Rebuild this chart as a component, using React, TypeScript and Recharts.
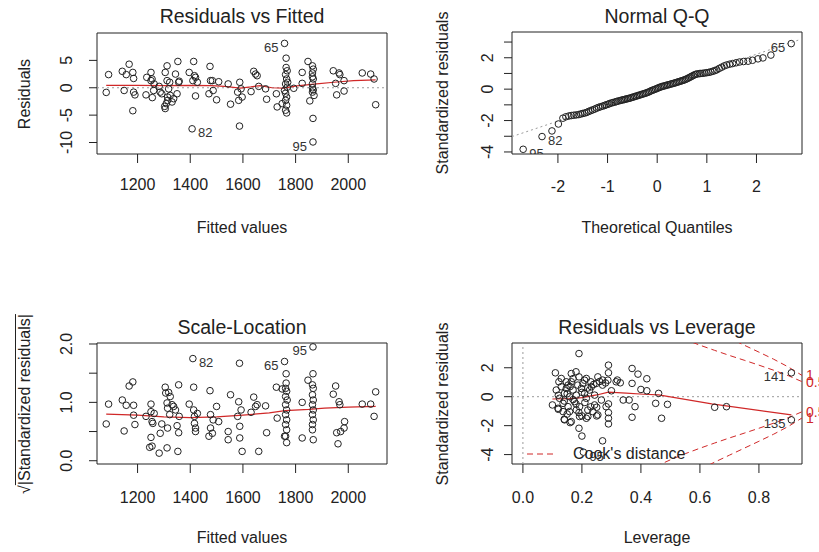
import React from 'react';
import {
  ComposedChart, Scatter, Line, XAxis, YAxis,
  ReferenceLine, ReferenceArea, ReferenceDot
} from 'recharts';

const FONT = '"Liberation Sans", Arial, sans-serif';
const INK = '#222';
const RED = '#d02828';
const GREY = '#9a9a9a';

// ---- Residuals vs Fitted: [fitted, residual]
const rvfPoints = [
  [1081, -0.85], [1090, 2.4], [1142, 3.0], [1149, -0.5], [1157, 2.4], [1168, 4.3], [1182, 2.8], [1185, 1.7],
  [1182, -4.2], [1185, -0.8], [1190, -1.3], [1232, -1.3], [1235, 1.9], [1251, 2.8], [1251, 1.3], [1255, 1.6],
  [1256, -1.8], [1261, -0.5], [1263, 0.7], [1282, 0.25], [1286, -0.8], [1292, -1.1], [1305, 2.8], [1303, -3.4],
  [1305, -3.8], [1309, -2.9], [1312, 4.0], [1312, 1.3], [1314, -1.7], [1314, -2.3], [1318, -0.2], [1322, 1.0],
  [1324, -1.4], [1331, -2.6], [1337, -2.0], [1344, 2.5], [1350, -1.1], [1353, 4.8], [1356, 1.0], [1358, 1.2],
  [1396, 2.8], [1413, 4.8], [1410, 1.3], [1416, 2.2], [1420, -1.5], [1420, 1.9], [1427, 1.0], [1475, 3.9],
  [1471, -1.1], [1477, 1.3], [1484, 1.3], [1487, -0.5], [1500, -2.2], [1508, 1.1], [1544, 0.7], [1553, -3.0],
  [1584, -2.3], [1580, -0.8], [1588, 1.0], [1587, -7.0], [1593, -0.2], [1597, -1.7], [1631, -0.7], [1641, 3.0],
  [1648, 2.5], [1654, 2.2], [1660, 0.25], [1686, -0.2], [1690, -2.1], [1727, -1.1], [1730, -3.5], [1749, -2.9],
  [1764, 5.4], [1764, 3.7], [1762, 2.4], [1766, 1.6], [1762, 0.7], [1768, 0.1], [1762, -1.0], [1766, -1.7],
  [1762, -2.3], [1766, -3.2], [1762, -4.1], [1766, -4.6], [1768, 3.1], [1770, 1.0], [1758, -0.5], [1793, -0.1],
  [1825, 2.8], [1825, 0.8], [1847, 4.8], [1854, -2.4], [1864, 4.0], [1867, 3.4], [1864, 2.7], [1867, 1.6],
  [1864, 0.7], [1867, -0.4], [1864, -0.8], [1870, -1.4], [1866, -5.6], [1864, 2.0], [1864, 0.0], [1943, 3.1],
  [1952, 0.8], [1956, -1.3], [1965, 2.7], [1968, 2.4], [1984, 1.3], [1984, -0.6], [2053, 2.7], [2085, 2.5],
  [2098, 1.6], [2104, -3.1],
];
const rvfTagged = [
  { x: 1758, y: 8.1, id: '65', side: 'left' },
  { x: 1407, y: -7.5, id: '82', side: 'right' },
  { x: 1866, y: -9.9, id: '95', side: 'left' },
];
const rvfSmooth = [
  [1081, 0.45], [1200, 0.45], [1300, 0.4], [1400, 0.45], [1480, 0.4], [1530, 0.25], [1590, -0.05], [1630, 0.15],
  [1665, 0.4], [1710, 0.0], [1755, -0.05], [1805, 0.35], [1880, 0.7], [1945, 1.0], [2020, 1.3], [2104, 1.45],
];

// ---- Normal Q-Q: [theoretical quantile, standardized residual]
const qqPoints = [
  [-2.12, -2.66], [-1.99, -2.22], [-1.90, -1.85], [-1.84, -1.76], [-1.78, -1.71], [-1.73, -1.68], [-1.68, -1.66],
  [-1.63, -1.64], [-1.58, -1.62], [-1.54, -1.58], [-1.50, -1.55], [-1.46, -1.52], [-1.42, -1.48], [-1.38, -1.42],
  [-1.34, -1.37], [-1.30, -1.32], [-1.26, -1.27], [-1.22, -1.21], [-1.18, -1.16], [-1.14, -1.12], [-1.10, -1.08],
  [-1.06, -1.04], [-1.03, -1.00], [-0.99, -0.96], [-0.96, -0.92], [-0.92, -0.88], [-0.89, -0.85], [-0.85, -0.82],
  [-0.82, -0.79], [-0.79, -0.76], [-0.75, -0.73], [-0.72, -0.70], [-0.69, -0.68], [-0.66, -0.66], [-0.63, -0.63],
  [-0.60, -0.61], [-0.57, -0.59], [-0.54, -0.56], [-0.51, -0.53], [-0.48, -0.50], [-0.45, -0.47], [-0.42, -0.44],
  [-0.39, -0.41], [-0.36, -0.38], [-0.33, -0.35], [-0.30, -0.32], [-0.27, -0.29], [-0.24, -0.26], [-0.21, -0.23],
  [-0.18, -0.19], [-0.15, -0.15], [-0.12, -0.10], [-0.09, -0.06], [-0.06, -0.03], [-0.03, 0.01], [0.00, 0.05],
  [0.03, 0.09], [0.06, 0.13], [0.09, 0.16], [0.12, 0.19], [0.15, 0.21], [0.18, 0.24], [0.21, 0.27], [0.24, 0.29],
  [0.27, 0.32], [0.30, 0.35], [0.33, 0.37], [0.36, 0.40], [0.39, 0.43], [0.42, 0.46], [0.45, 0.49], [0.48, 0.52],
  [0.51, 0.55], [0.54, 0.58], [0.57, 0.62], [0.60, 0.66], [0.63, 0.71], [0.66, 0.76], [0.69, 0.81], [0.72, 0.86],
  [0.75, 0.91], [0.78, 0.95], [0.81, 0.97], [0.85, 0.99], [0.88, 1.00], [0.92, 1.01], [0.96, 1.03], [1.00, 1.05],
  [1.04, 1.07], [1.08, 1.10], [1.12, 1.14], [1.16, 1.18], [1.20, 1.23], [1.25, 1.32], [1.30, 1.40], [1.35, 1.48],
  [1.40, 1.54], [1.46, 1.59], [1.52, 1.63], [1.59, 1.68], [1.66, 1.73], [1.74, 1.76], [1.83, 1.78], [1.92, 1.84],
  [2.03, 1.93], [2.13, 1.99], [2.29, 2.17],
];
const qqTagged = [
  { x: -2.70, y: -3.83, id: '95', side: 'right' },
  { x: -2.32, y: -3.02, id: '82', side: 'right' },
  { x: 2.70, y: 2.90, id: '65', side: 'left' },
];
const qqLine = [[-2.925, -3.02], [2.917, 3.2]];

// ---- Scale-Location: [fitted, sqrt|std residual|]
const slPoints = [
  [1081, 0.63], [1090, 0.97], [1142, 1.04], [1149, 0.51], [1157, 0.95], [1168, 1.28], [1182, 1.35], [1185, 0.95],
  [1185, 0.78], [1190, 0.62], [1232, 0.76], [1251, 0.84], [1251, 0.97], [1255, 0.67], [1251, 0.40], [1246, 0.23],
  [1255, 0.25], [1263, 0.81], [1258, 0.64], [1282, 0.13], [1286, 0.47], [1292, 0.63], [1305, 1.26], [1307, 1.16],
  [1312, 0.99], [1312, 0.22], [1314, 0.90], [1314, 0.56], [1318, 1.17], [1322, 0.79], [1324, 1.10], [1331, 0.96],
  [1337, 0.93], [1344, 0.87], [1350, 0.60], [1353, 0.16], [1356, 1.30], [1356, 0.48], [1358, 0.76], [1396, 0.97],
  [1413, 1.26], [1413, 0.87], [1416, 0.76], [1416, 0.64], [1420, 0.56], [1420, 0.50], [1427, 0.81], [1475, 1.20],
  [1471, 0.42], [1477, 0.79], [1477, 0.56], [1484, 0.47], [1487, 0.70], [1500, 0.93], [1508, 0.67], [1544, 0.50],
  [1553, 1.13], [1544, 0.36], [1580, 0.76], [1584, 1.01], [1587, 1.67], [1588, 0.59], [1588, 0.39], [1597, 0.16],
  [1593, 0.87], [1631, 0.83], [1641, 1.09], [1648, 0.93], [1654, 0.96], [1660, 0.16], [1690, 0.48], [1686, 0.94],
  [1727, 1.26], [1730, 0.73], [1749, 1.23], [1764, 1.49], [1764, 1.33], [1762, 1.24], [1766, 1.19], [1762, 1.10],
  [1768, 1.04], [1762, 0.96], [1766, 0.87], [1762, 0.79], [1766, 0.70], [1762, 0.62], [1766, 0.53], [1762, 0.42],
  [1766, 0.31], [1758, 0.42], [1825, 1.00], [1825, 0.39], [1847, 1.38], [1866, 1.49], [1864, 1.30], [1867, 1.24],
  [1864, 1.13], [1867, 1.04], [1864, 0.96], [1867, 0.87], [1864, 0.79], [1867, 0.70], [1864, 0.53], [1867, 0.36],
  [1864, 0.62], [1943, 1.14], [1952, 1.28], [1956, 0.48], [1961, 0.29], [1965, 1.01], [1968, 0.96], [1971, 0.50],
  [1984, 0.56], [1986, 0.67], [2053, 0.97], [2085, 0.97], [2098, 0.76], [2104, 1.18],
];
const slTagged = [
  { x: 1410, y: 1.75, id: '82', side: 'right' },
  { x: 1758, y: 1.70, id: '65', side: 'left' },
  { x: 1866, y: 1.95, id: '95', side: 'left' },
];
const slSmooth = [
  [1081, 0.80], [1200, 0.78], [1300, 0.75], [1400, 0.74], [1500, 0.75], [1600, 0.78], [1700, 0.82], [1760, 0.86],
  [1850, 0.88], [1910, 0.90], [2000, 0.92], [2104, 0.93],
];

// ---- Residuals vs Leverage: [leverage, std residual]
const rvlPoints = [
  [0.19, 2.98], [0.29, 2.18], [0.29, 1.65], [0.37, 1.95], [0.39, 1.56], [0.42, 1.24], [0.11, 1.65], [0.37, 0.92],
  [0.40, 0.50], [0.42, 0.41], [0.46, 0.23], [0.45, -0.46], [0.49, -0.53], [0.38, -0.69], [0.37, -1.42], [0.47, -1.49],
  [0.34, -0.23], [0.36, -0.23], [0.32, 1.15], [0.33, 0.96], [0.30, 0.41], [0.29, -0.50], [0.29, -1.10], [0.29, -1.49],
  [0.29, -1.88], [0.27, 1.15], [0.27, -3.05], [0.20, -2.72], [0.19, -2.18], [0.20, -1.33], [0.22, -1.37], [0.25, -1.33],
  [0.25, -0.73], [0.14, -1.56], [0.16, -1.79], [0.10, -0.57], [0.12, -0.87], [0.65, -0.73], [0.69, -0.69],
  [0.122, 1.03], [0.13, 0.69], [0.18, 1.72], [0.19, 1.37], [0.215, 1.26], [0.23, 1.03], [0.254, 1.37], [0.249, 0.92],
  [0.164, 1.03], [0.147, 0.57], [0.141, 0.23], [0.17, 0.46], [0.198, 0.57], [0.226, 0.46], [0.243, 0.11],
  [0.215, -0.11], [0.119, -0.80], [0.136, -1.03], [0.153, -0.69], [0.175, -0.34], [0.192, -0.69], [0.22, -0.92],
  [0.141, -1.60], [0.164, -1.72], [0.192, -1.37], [0.215, -1.49], [0.254, -1.26], [0.124, -0.11], [0.158, 0.0],
  [0.181, 0.11], [0.203, 0.92], [0.27, 0.80], [0.288, 1.14], [0.316, 1.03], [0.266, -0.23], [0.243, -0.57],
  [0.282, -0.69], [0.113, 0.46], [0.136, -0.46], [0.158, -1.03], [0.181, -0.92], [0.237, -1.03], [0.164, 1.60],
  [0.13, 1.26], [0.209, 0.23], [0.147, 1.03], [0.232, 0.69], [0.153, 0.80], [0.186, 0.80], [0.209, 1.14],
  [0.15, 0.2], [0.17, -0.2], [0.16, 0.7], [0.20, 0.3], [0.18, -0.5], [0.14, -0.3], [0.22, 0.6], [0.24, 0.85],
  [0.26, 1.05], [0.21, -0.4], [0.17, 1.25], [0.12, 0.1], [0.23, -0.7], [0.19, -1.1], [0.28, 0.95], [0.15, -1.2],
];
const rvlTagged = [
  { x: 0.91, y: 1.65, id: '141', side: 'left' },
  { x: 0.91, y: -1.60, id: '135', side: 'left' },
  { x: 0.205, y: -3.83, id: '95', side: 'right' },
];
const rvlSmooth = [
  [0.10, -0.16], [0.16, -0.13], [0.20, -0.07], [0.25, 0.12], [0.29, 0.32], [0.35, 0.25], [0.41, 0.17], [0.46, 0.12],
  [0.64, -0.5], [0.91, -1.26],
];
// Cook's distance contours, read at these leverages
const cookHalfLev = [0.45, 0.5, 0.55, 0.6, 0.65, 0.7, 0.75, 0.8, 0.85, 0.9, 0.946];
const cookHalf = [4.82, 4.36, 3.94, 3.56, 3.2, 2.85, 2.52, 2.18, 1.83, 1.45, 1.04];
const cookOneLev = [0.6, 0.65, 0.7, 0.75, 0.8, 0.85, 0.9, 0.946];
const cookOne = [5.03, 4.52, 4.04, 3.56, 3.08, 2.59, 2.05, 1.47];

const toXY = (pts: number[][]) => pts.map(([x, y]) => ({ x, y }));
const curve = (lev: number[], vals: number[], sign: number) => lev.map((x, i) => ({ x, y: sign * vals[i] }));

const Ring = (props: any) => (
  <circle cx={props.cx} cy={props.cy} r={3.3} fill="none" stroke={INK} strokeWidth={1} />
);

const Tagged = (props: any) => {
  const { cx, cy, payload } = props;
  const left = payload.side === 'left';
  return (
    <g>
      <circle cx={cx} cy={cy} r={3.3} fill="none" stroke={INK} strokeWidth={1} />
      <text x={left ? cx - 6 : cx + 6} y={cy + 4} dy="0.35em" textAnchor={left ? 'end' : 'start'}
        fontSize={13} fill="#333" fontFamily={FONT}>{payload.id}</text>
    </g>
  );
};

const vTick = (labelled: number[] | null, digits: number) => (props: any) => {
  const { x, y, payload } = props;
  const v = payload.value;
  if (labelled && !labelled.some((l) => Math.abs(l - v) < 1e-9)) return <g />;
  return (
    <text x={x} y={y} transform={`rotate(-90 ${x} ${y})`} textAnchor="middle" dy="0.35em"
      fontSize={16} fill={INK} fontFamily={FONT}>{v.toFixed(digits)}</text>
  );
};

const Panel = (p: any) => {
  const { left, top, box, title, titleY, xLabel, xLabelY, yLabel, yLabelX, xDomain, yDomain,
    xTicks, yTicks, xFmt, yTick, xTickMargin, yTickMargin, children, overlay } = p;
  const cx = (box.l + box.r) / 2;
  const cy = (box.t + box.b) / 2;
  const text: React.CSSProperties = { position: 'absolute', whiteSpace: 'nowrap', color: INK, fontFamily: FONT, lineHeight: 1 };
  return (
    <div style={{ position: 'absolute', left, top, width: 410, height: 276 }}>
      <ComposedChart width={410} height={276}
        margin={{ top: box.t, right: 410 - box.r, bottom: 276 - box.b - 30, left: box.l - 40 }}>
        <XAxis type="number" dataKey="x" domain={xDomain} ticks={xTicks} interval={0} allowDataOverflow
          height={30} axisLine={false} tickSize={9} tickMargin={xTickMargin} tickLine={{ stroke: INK }}
          tick={{ fontSize: 16, fill: INK, fontFamily: FONT }} tickFormatter={xFmt} />
        <YAxis type="number" dataKey="y" domain={yDomain} ticks={yTicks} interval={0} allowDataOverflow
          width={40} axisLine={false} tickSize={8} tickMargin={yTickMargin} tickLine={{ stroke: INK }} tick={yTick} />
        {children}
        <ReferenceArea x1={xDomain[0]} x2={xDomain[1]} y1={yDomain[0]} y2={yDomain[1]}
          fill="none" fillOpacity={0} stroke={INK} strokeWidth={1} ifOverflow="visible" />
      </ComposedChart>
      <div style={{ ...text, left: cx, top: titleY, fontSize: 19.5, transform: 'translate(-50%,-50%)' }}>{title}</div>
      <div style={{ ...text, left: cx, top: xLabelY, fontSize: 16, transform: 'translate(-50%,-50%)' }}>{xLabel}</div>
      <div style={{ ...text, left: yLabelX, top: cy, fontSize: 16, transform: 'translate(-50%,-50%) rotate(-90deg)' }}>{yLabel}</div>
      {overlay}
    </div>
  );
};

const dotted = { stroke: GREY, strokeDasharray: '2 3', strokeWidth: 1 };

export default function App() {
  return (
    <div style={{ position: 'absolute', left: 0, top: 0, width: 819, height: 552, overflow: 'hidden', background: '#fff' }}>
      {/* Residuals vs Fitted */}
      <Panel left={0} top={0} box={{ l: 97, r: 387, t: 33, b: 154 }}
        title="Residuals vs Fitted" titleY={17} xLabel="Fitted values" xLabelY={228} yLabel="Residuals" yLabelX={25}
        xDomain={[1046, 2147]} yDomain={[-12.1, 10.0]} xTicks={[1200, 1400, 1600, 1800, 2000]} yTicks={[-10, -5, 0, 5]}
        yTick={vTick(null, 0)} xTickMargin={16} yTickMargin={23}>
        <ReferenceLine y={0} {...dotted} />
        <Line data={toXY(rvfSmooth)} dataKey="y" stroke={RED} strokeWidth={1.2} dot={false} isAnimationActive={false} />
        <Scatter data={toXY(rvfPoints)} shape={Ring} isAnimationActive={false} />
        <Scatter data={rvfTagged} shape={Tagged} isAnimationActive={false} />
      </Panel>

      {/* Normal Q-Q */}
      <Panel left={410} top={0} box={{ l: 102, r: 392, t: 32, b: 154 }}
        title="Normal Q-Q" titleY={17} xLabel="Theoretical Quantiles" xLabelY={228} yLabel="Standardized residuals" yLabelX={33}
        xDomain={[-2.925, 2.917]} yDomain={[-4.13, 3.64]} xTicks={[-2, -1, 0, 1, 2]} yTicks={[-4, -3, -2, -1, 0, 1, 2, 3]}
        yTick={vTick([-4, -2, 0, 2], 0)} xTickMargin={18} yTickMargin={17}>
        <Line data={toXY(qqLine)} dataKey="y" stroke={GREY} strokeDasharray="2 3" dot={false} isAnimationActive={false} />
        <Scatter data={toXY(qqPoints)} shape={Ring} isAnimationActive={false} />
        <Scatter data={qqTagged} shape={Tagged} isAnimationActive={false} />
      </Panel>

      {/* Scale-Location */}
      <Panel left={0} top={276} box={{ l: 97, r: 387, t: 67, b: 188 }}
        title="Scale-Location" titleY={52} xLabel="Fitted values" xLabelY={262}
        yLabel={<span>√<span style={{ textDecoration: 'overline' }}>|Standardized residuals|</span></span>} yLabelX={25}
        xDomain={[1046, 2147]} yDomain={[-0.056, 2.017]} xTicks={[1200, 1400, 1600, 1800, 2000]} yTicks={[0, 0.5, 1, 1.5, 2]}
        yTick={vTick([0, 1, 2], 1)} xTickMargin={19} yTickMargin={23}>
        <Line data={toXY(slSmooth)} dataKey="y" stroke={RED} strokeWidth={1.2} dot={false} isAnimationActive={false} />
        <Scatter data={toXY(slPoints)} shape={Ring} isAnimationActive={false} />
        <Scatter data={slTagged} shape={Tagged} isAnimationActive={false} />
      </Panel>

      {/* Residuals vs Leverage */}
      <Panel left={410} top={276} box={{ l: 102, r: 392, t: 67, b: 188 }}
        title="Residuals vs Leverage" titleY={52} xLabel="Leverage" xLabelY={262} yLabel="Standardized residuals" yLabelX={33}
        xDomain={[-0.037, 0.946]} yDomain={[-4.65, 3.71]} xTicks={[0, 0.2, 0.4, 0.6, 0.8]} yTicks={[-4, -2, 0, 2]}
        xFmt={(v: number) => v.toFixed(1)} yTick={vTick(null, 0)} xTickMargin={19} yTickMargin={17}
        overlay={
          <div style={{ position: 'absolute', left: 117, top: 178, transform: 'translateY(-50%)', display: 'flex', alignItems: 'center',
            fontFamily: FONT, fontSize: 16, color: INK, whiteSpace: 'nowrap', lineHeight: 1 }}>
            <svg width={26} height={4} style={{ marginRight: 20 }}>
              <line x1={0} y1={2} x2={26} y2={2} stroke={RED} strokeDasharray="6 4" />
            </svg>
            <span>Cook's distance</span>
          </div>
        }>
        <ReferenceLine y={0} {...dotted} />
        <ReferenceLine x={0} {...dotted} />
        <Line data={curve(cookHalfLev, cookHalf, 1)} dataKey="y" stroke={RED} strokeDasharray="6 4" dot={false} isAnimationActive={false} />
        <Line data={curve(cookHalfLev, cookHalf, -1)} dataKey="y" stroke={RED} strokeDasharray="6 4" dot={false} isAnimationActive={false} />
        <Line data={curve(cookOneLev, cookOne, 1)} dataKey="y" stroke={RED} strokeDasharray="6 4" dot={false} isAnimationActive={false} />
        <Line data={curve(cookOneLev, cookOne, -1)} dataKey="y" stroke={RED} strokeDasharray="6 4" dot={false} isAnimationActive={false} />
        <Line data={toXY(rvlSmooth)} dataKey="y" stroke={RED} strokeWidth={1.2} dot={false} isAnimationActive={false} />
        <Scatter data={toXY(rvlPoints)} shape={Ring} isAnimationActive={false} />
        <Scatter data={rvlTagged} shape={Tagged} isAnimationActive={false} />
        {[[cookOne, '1', 1], [cookHalf, '0.5', 1], [cookHalf, '0.5', -1], [cookOne, '1', -1]].map(([vals, lbl, s]: any, i) => (
          <ReferenceDot key={i} x={0.946} y={s * vals[vals.length - 1]} r={1} fill="none" stroke="none" ifOverflow="visible"
            label={{ value: lbl, position: 'right', offset: 3, fill: RED, fontSize: 14, fontFamily: FONT }} />
        ))}
      </Panel>
    </div>
  );
}
